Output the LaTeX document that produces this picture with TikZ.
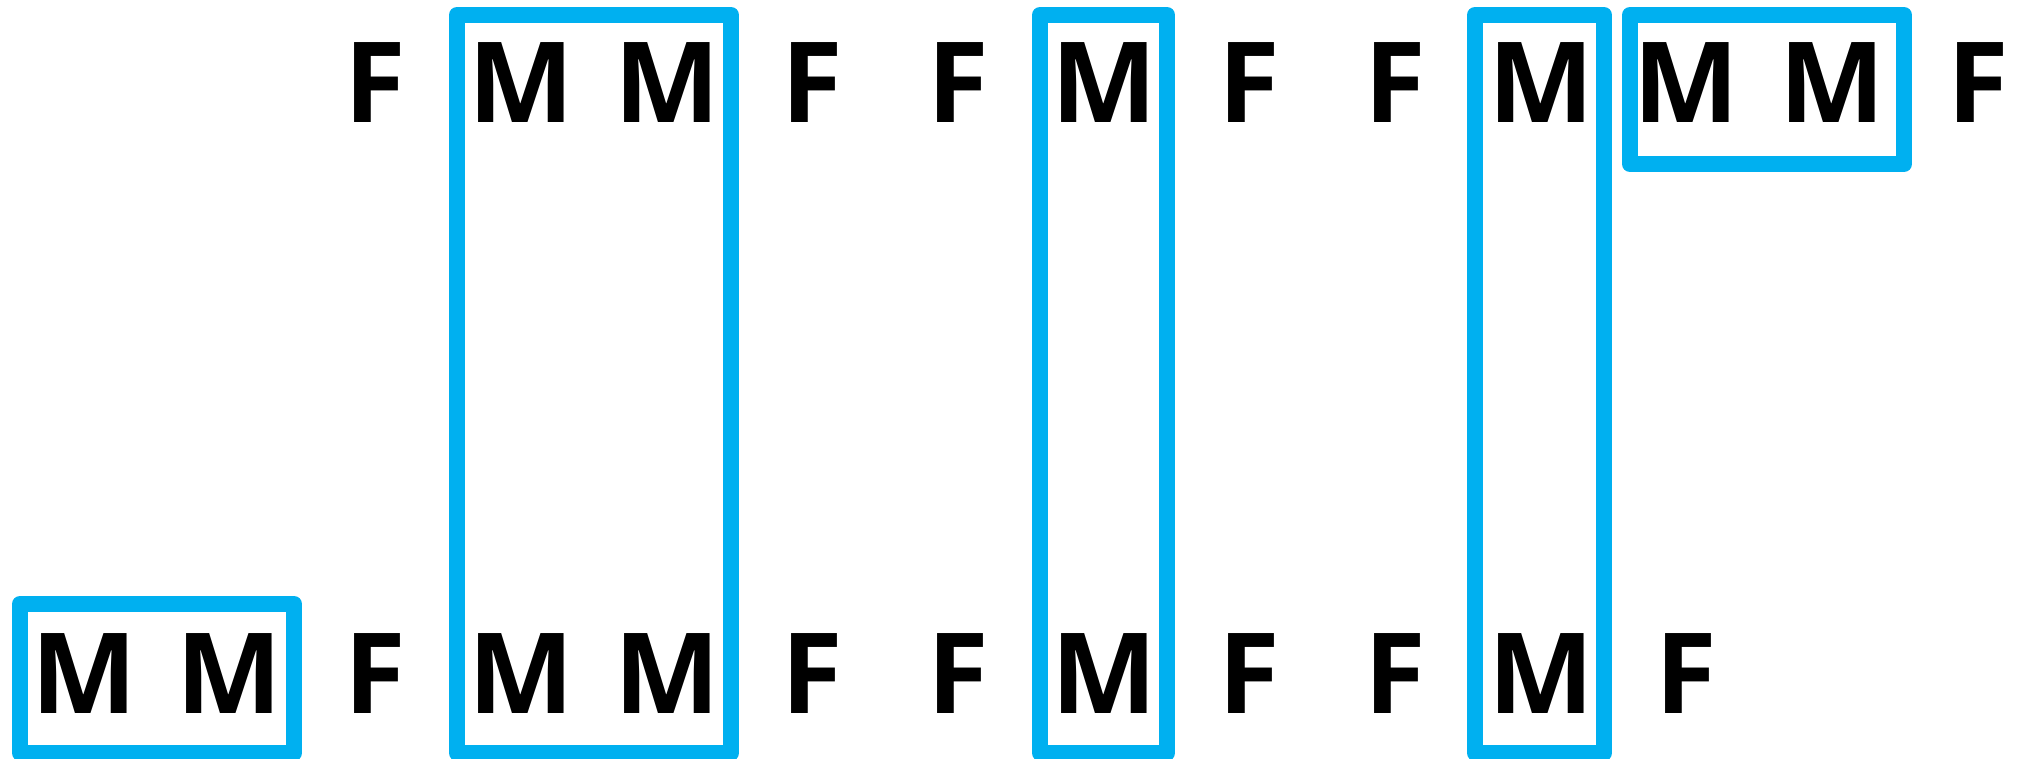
\documentclass[tikz,border=0pt]{standalone}
\usepackage{fontspec}
\setmainfont{Open Sans}
\definecolor{hlblue}{RGB}{0,176,240}
\begin{document}
\begin{tikzpicture}[x=1pt,y=-1pt,
  lt/.style={anchor=base, inner sep=0pt, font=\fontsize{112}{112}\selectfont\bfseries},
  hl/.style={draw=hlblue, line width=16pt, line join=round}]
\useasboundingbox (0,0) rectangle (2023,759);
% top row letters
\foreach \i/\l in {2/F,3/M,4/M,5/F,6/F,7/M,8/F,9/F,10/M,11/M,12/M,13/F}
  \node[lt] (t\i) at ({84+145.7*\i},123) {\l};
% bottom row letters
\foreach \i/\l in {0/M,1/M,2/F,3/M,4/M,5/F,6/F,7/M,8/F,9/F,10/M,11/F}
  \node[lt] (b\i) at ({84+145.7*\i},713) {\l};
% highlight boxes
\draw[hl] (457,15) rectangle (731,753);
\draw[hl] (1040,15) rectangle (1167,753);
\draw[hl] (1475,15) rectangle (1604,753);
\draw[hl] (1630,15) rectangle (1904,164);
\draw[hl] (20,604) rectangle (294,753);
\end{tikzpicture}
\end{document}
